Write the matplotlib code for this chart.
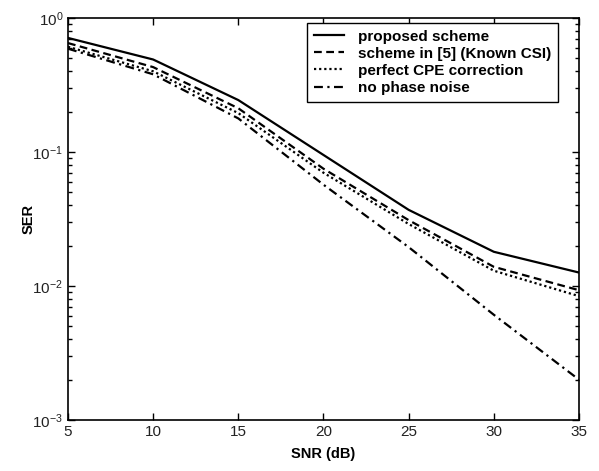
import numpy as np
import matplotlib
matplotlib.use("Agg")
import matplotlib.pyplot as plt
from matplotlib.ticker import LogLocator, NullFormatter

plt.rcParams['font.family'] = ['Liberation Sans', 'DejaVu Sans']
plt.rcParams['mathtext.fontset'] = 'custom'
plt.rcParams['mathtext.rm'] = 'Liberation Sans'

# SNR grid and read-off SER values
snr = [5, 10, 15, 20, 25, 30, 35]
ser_proposed = [0.71, 0.49, 0.244, 0.095, 0.037, 0.018, 0.0126]
ser_known_csi = [0.65, 0.43, 0.212, 0.075, 0.031, 0.0139, 0.0093]
ser_perfect_cpe = [0.61, 0.40, 0.195, 0.070, 0.029, 0.013, 0.0084]
ser_no_pn = [0.59, 0.38, 0.178, 0.057, 0.0195, 0.0061, 0.0020]

labels = ["proposed scheme", "scheme in [5] (Known CSI)",
          "perfect CPE correction", "no phase noise"]

fig = plt.figure(figsize=(5.99, 4.71), dpi=100)
ax = fig.add_axes([0.1135, 0.1083, 0.8531, 0.8535])

ax.semilogy(snr, ser_proposed, 'k-', lw=1.6, label=labels[0])
ax.semilogy(snr, ser_known_csi, 'k', ls=(0, (3.5, 2)), lw=1.6, label=labels[1])
ax.semilogy(snr, ser_perfect_cpe, 'k', ls=(0, (1, 1.3)), lw=1.6, label=labels[2])
ax.semilogy(snr, ser_no_pn, 'k', ls=(0, (4, 2, 1, 2)), lw=1.6, label=labels[3])

ax.set_xlim(5, 35)
ax.set_ylim(1e-3, 1)
ax.set_xticks([5, 10, 15, 20, 25, 30, 35])
ax.yaxis.set_minor_locator(LogLocator(base=10, subs=np.arange(2, 10)))
ax.yaxis.set_minor_formatter(NullFormatter())
ax.tick_params(which='both', direction='in', top=True, right=True,
               labelsize=11, width=1, labelcolor='#222222')
ax.tick_params(which='major', length=5)
ax.tick_params(which='minor', length=3)
for s in ax.spines.values():
    s.set_linewidth(1.2)

ax.set_xlabel("SNR (dB)", fontsize=10.5, fontweight='bold', labelpad=6)
ax.set_ylabel("SER", fontsize=10.5, fontweight='bold', labelpad=-2)

leg = ax.legend(loc='upper right', bbox_to_anchor=(0.959, 0.988),
                prop={'weight': 'bold', 'size': 11}, fancybox=False,
                edgecolor='black', framealpha=1, handlelength=2.0,
                borderaxespad=0, labelspacing=0.2, handletextpad=0.9,
                borderpad=0.45)
leg.get_frame().set_linewidth(1)

fig.savefig("out.png", dpi=100)
